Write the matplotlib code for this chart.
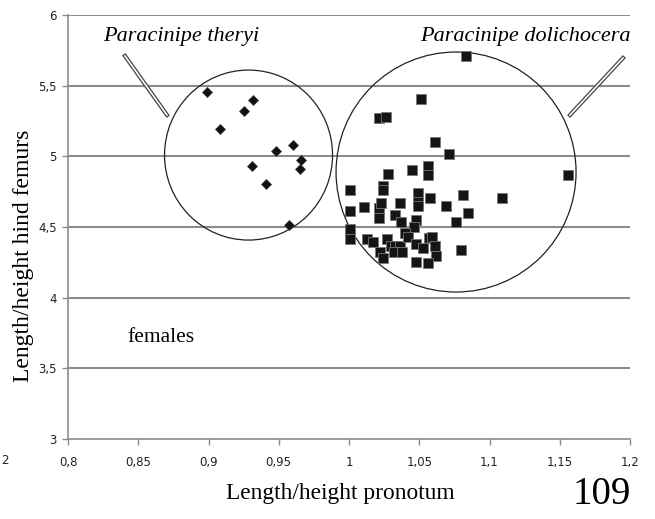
import matplotlib
matplotlib.use("Agg")
import matplotlib.pyplot as plt
from matplotlib.patches import Ellipse

# P. theryi (diamonds)
theryi_x = [0.899, 0.932, 0.925, 0.908, 0.960, 0.948, 0.966, 0.965, 0.931, 0.941, 0.957]
theryi_y = [5.457, 5.398, 5.323, 5.190, 5.078, 5.040, 4.976, 4.912, 4.929, 4.804, 4.514]

# P. dolichocera (squares)
dolich_x = [1.083, 1.051, 1.021, 1.026, 1.061, 1.071, 1.156, 1.028, 1.045, 1.056,
            1.056, 1.001, 1.024, 1.024, 1.049, 1.049, 1.049, 1.058, 1.081, 1.109,
            1.069, 1.085, 1.076, 1.001, 1.011, 1.021, 1.023, 1.021, 1.036, 1.033,
            1.037, 1.048, 1.046, 1.001, 1.001, 1.013, 1.017, 1.027, 1.022, 1.024,
            1.030, 1.033, 1.036, 1.032, 1.038, 1.040, 1.042, 1.048, 1.053, 1.057,
            1.059, 1.061, 1.062, 1.048, 1.056, 1.080]
dolich_y = [5.712, 5.403, 5.273, 5.280, 5.099, 5.018, 4.868, 4.877, 4.900, 4.933,
            4.868, 4.762, 4.792, 4.760, 4.738, 4.679, 4.648, 4.707, 4.724, 4.707,
            4.648, 4.597, 4.537, 4.615, 4.639, 4.636, 4.667, 4.561, 4.672, 4.585,
            4.533, 4.549, 4.502, 4.483, 4.415, 4.415, 4.391, 4.413, 4.325, 4.278,
            4.367, 4.367, 4.367, 4.325, 4.325, 4.455, 4.427, 4.379, 4.349, 4.420,
            4.431, 4.365, 4.292, 4.254, 4.245, 4.337]

x_ticks = [0.8, 0.85, 0.9, 0.95, 1.0, 1.05, 1.1, 1.15, 1.2]
x_labels = ["0,8", "0,85", "0,9", "0,95", "1", "1,05", "1,1", "1,15", "1,2"]
y_ticks = [3, 3.5, 4, 4.5, 5, 5.5, 6]
y_labels = ["3", "3,5", "4", "4,5", "5", "5,5", "6"]

serif = "Liberation Serif"
grey = "#8c8c8c"

fig = plt.figure(figsize=(6.55, 5.19), dpi=100)
ax = fig.add_axes([68/655, 1-439/519, (630-68)/655, (439-15)/519])
ax.set_xlim(0.8, 1.2)
ax.set_ylim(3, 6)

for yv in y_ticks[1:]:
    ax.axhline(yv, color=grey, lw=1.5, zorder=1)

ax.plot(theryi_x, theryi_y, linestyle="none", marker="D", markersize=5.2,
        color="#111111", markeredgecolor="#333333", markeredgewidth=0.5, zorder=3)
ax.plot(dolich_x, dolich_y, linestyle="none", marker="s", markersize=7.0,
        color="#151515", markeredgecolor="#777777", markeredgewidth=0.6, zorder=3)

# circles (drawn in data coords, round in pixel space)
ax.add_patch(Ellipse((0.9285, 5.009), 168/1405, 170/141.33, fill=False,
                     edgecolor="#222222", lw=0.9, zorder=2))
ax.add_patch(Ellipse((1.0762, 4.889), 240/1405, 240/141.33, fill=False,
                     edgecolor="#222222", lw=0.9, zorder=2))

ax.set_xticks(x_ticks)
ax.set_xticklabels(x_labels)
ax.set_yticks(y_ticks)
ax.set_yticklabels(y_labels)
ax.tick_params(axis="both", colors=grey, length=4, width=1, labelsize=8.5,
               labelcolor="#222222", direction="out")
ax.tick_params(axis="x", pad=8)
ax.tick_params(axis="y", pad=4)
for s in ["top", "right"]:
    ax.spines[s].set_visible(False)
for s in ["left", "bottom"]:
    ax.spines[s].set_color(grey)
    ax.spines[s].set_linewidth(1.2)

ax.set_xlabel("Length/height pronotum", family=serif, fontsize=16.8)
ax.set_ylabel("Length/height hind femurs", family=serif, fontsize=17)
ax.xaxis.set_label_coords((340-68)/562, -(493-439)/424)
ax.yaxis.set_label_coords((24-68)/562, 1-(256-15)/424)
ax.xaxis.label.set_va("center")
ax.yaxis.label.set_va("center")

# labels for groups
fig.text(103/655, 1-37/519, "Paracinipe theryi", family=serif, style="italic",
         fontsize=16, ha="left", va="center")
fig.text(631/655, 1-37/519, "Paracinipe dolichocera", family=serif, style="italic",
         fontsize=16, ha="right", va="center")
fig.text(127/655, 1-337/519, "females", family=serif, fontsize=15.5, ha="left", va="center")

# leader lines (double line look)
for (x0, y0, x1, y1) in [(125, 56, 167, 115), (623, 58, 570, 115)]:
    fx = [x0/655, x1/655]
    fy = [1-y0/519, 1-y1/519]
    fig.add_artist(plt.Line2D(fx, fy, color="#444444", lw=3.0))
    fig.add_artist(plt.Line2D(fx, fy, color="white", lw=1.2))

fig.text(5/655, 1-460/519, "2", fontsize=8.5, color="#222222", ha="center", va="center")
fig.text(602/655, 1-494/519, "109", family=serif, fontsize=28, ha="center", va="center")

fig.savefig("out.png", dpi=100)
